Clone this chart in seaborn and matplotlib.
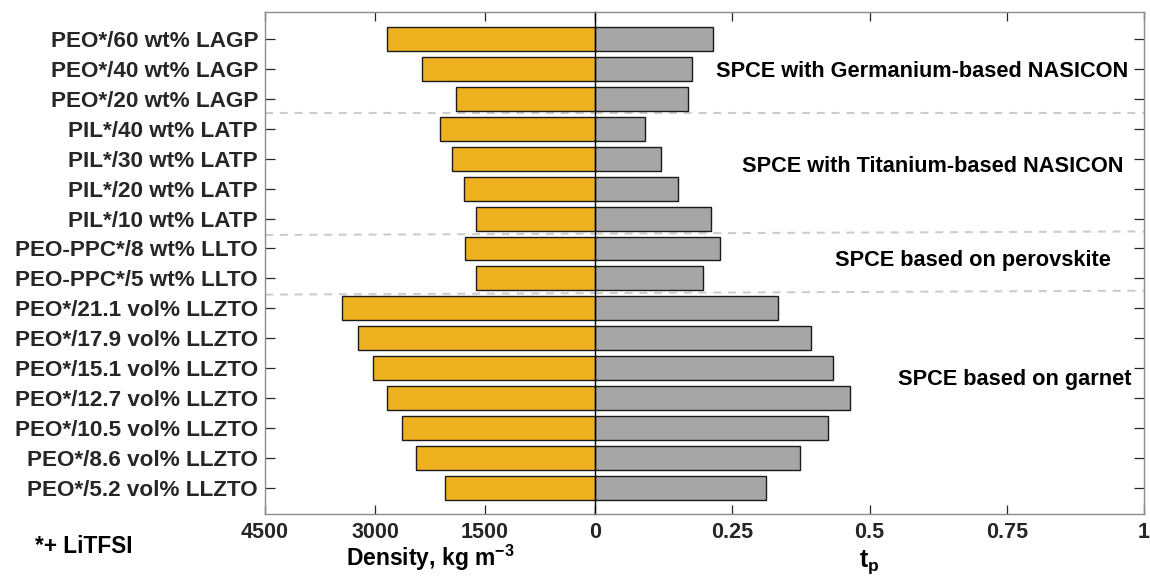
import matplotlib
matplotlib.use("Agg")
import matplotlib.pyplot as plt
import numpy as np
import pandas as pd
import seaborn as sns

# Composite electrolytes, top to bottom
electrolytes = [
    "PEO*/60 wt% LAGP", "PEO*/40 wt% LAGP", "PEO*/20 wt% LAGP",
    "PIL*/40 wt% LATP", "PIL*/30 wt% LATP", "PIL*/20 wt% LATP", "PIL*/10 wt% LATP",
    "PEO-PPC*/8 wt% LLTO", "PEO-PPC*/5 wt% LLTO",
    "PEO*/21.1 vol% LLZTO", "PEO*/17.9 vol% LLZTO", "PEO*/15.1 vol% LLZTO",
    "PEO*/12.7 vol% LLZTO", "PEO*/10.5 vol% LLZTO", "PEO*/8.6 vol% LLZTO",
    "PEO*/5.2 vol% LLZTO",
]
density = [2830, 2360, 1890, 2110, 1945, 1780, 1620, 1775, 1620,
           3445, 3235, 3030, 2830, 2635, 2435, 2045]
transference = [0.215, 0.177, 0.169, 0.091, 0.121, 0.151, 0.211, 0.228, 0.196,
                0.333, 0.393, 0.434, 0.464, 0.424, 0.373, 0.312]

group_names = ["SPCE with Germanium-based NASICON", "SPCE with Titanium-based NASICON",
               "SPCE based on perovskite", "SPCE based on garnet"]
group_label_x = [0.595, 0.615, 0.689, 0.765]
group_label_y = [1.09, 4.26, 7.41, 11.39]

density_ticks = [4500, 3000, 1500, 0]
tp_ticks = [0, 0.25, 0.5, 0.75, 1]
tp_tick_labels = ["", "0.25", "0.5", "0.75", "1"]

# separators between groups: (y at left edge, y at right edge)
separators = [(2.49, 2.49), (6.55, 6.43), (8.54, 8.41)]

YELLOW = "#EDB120"
GREY = "#A6A6A6"
TEXT = "#262626"
SPINE = "#8c8c8c"

sns.set_style("white")
plt.rcParams["font.family"] = ["Liberation Sans", "DejaVu Sans"]
plt.rcParams["font.weight"] = "bold"
plt.rcParams["axes.labelweight"] = "bold"
plt.rcParams["mathtext.fontset"] = "custom"
plt.rcParams["mathtext.rm"] = "Liberation Sans:bold"
plt.rcParams["mathtext.it"] = "Liberation Sans:bold"
plt.rcParams["mathtext.bf"] = "Liberation Sans:bold"
plt.rcParams["mathtext.default"] = "bf"

df = pd.DataFrame({"electrolyte": electrolytes, "density": density, "tp": transference})

W, H = 1150, 576
fig = plt.figure(figsize=(W / 100, H / 100), dpi=100)
left_px, mid_px, right_px = 265, 595, 1144
top_px, bot_px = 12, 514
axL = fig.add_axes([left_px / W, 1 - bot_px / H, (mid_px - left_px) / W, (bot_px - top_px) / H])
axR = fig.add_axes([mid_px / W, 1 - bot_px / H, (right_px - mid_px) / W, (bot_px - top_px) / H])

sns.barplot(data=df, y="electrolyte", x="density", orient="h", color=YELLOW,
            saturation=1, width=0.8, edgecolor="#1a1a1a", linewidth=1, ax=axL, zorder=2)
sns.barplot(data=df, y="electrolyte", x="tp", orient="h", color=GREY,
            saturation=1, width=0.8, edgecolor="#1a1a1a", linewidth=1, ax=axR, zorder=2)

# dashed group separators running across both panels
split = (mid_px - left_px) / (right_px - left_px)
for yl, yr in separators:
    ym = yl + (yr - yl) * split
    kw = dict(color="#cccccc", lw=1.5, ls=(0, (3.8, 3.3)), zorder=1)
    axL.plot([4500, 0], [yl, ym], **kw)
    axR.plot([0, 1], [ym, yr], **kw)

for name, gx, gy in zip(group_names, group_label_x, group_label_y):
    axR.text(gx, gy, name, ha="center", va="center", fontsize=15.7,
             fontweight="bold", color="black")

axL.set_xlim(4500, 0)
axR.set_xlim(0, 1)
for ax in (axL, axR):
    ax.set_ylim(15.87, -0.9)
    ax.set_ylabel("")
    for s in ax.spines.values():
        s.set_color(SPINE)
        s.set_linewidth(1)
    ax.tick_params(axis="x", direction="in", top=True, bottom=True, length=6.5,
                   width=0.9, color=TEXT, labelsize=15.5, labelcolor=TEXT, pad=6)

axL.spines["right"].set_visible(False)
axR.spines["left"].set_color("black")
axR.spines["left"].set_linewidth(1)

axL.set_xticks(density_ticks)
axL.set_xticklabels([str(t) for t in density_ticks])
axR.set_xticks(tp_ticks)
axR.set_xticklabels(tp_tick_labels)

axL.tick_params(axis="y", direction="in", left=True, right=False, length=7,
                width=0.9, color=TEXT, labelsize=16.2, labelcolor=TEXT, pad=5)
axR.set_yticks(range(len(electrolytes)))
axR.tick_params(axis="y", direction="in", left=False, right=True, labelleft=False,
                length=7, width=0.9, color=TEXT)

axL.set_xlabel("Density, kg m$^{-3}$", fontsize=16.5, color="black")
axL.xaxis.label.set_va("baseline")
axL.xaxis.set_label_coords(0.5, -(566 - bot_px) / (bot_px - top_px))
axR.set_xlabel("t$_p$", fontsize=18, color="black")
axR.xaxis.label.set_va("baseline")
axR.xaxis.set_label_coords(0.5, -(567 - bot_px) / (bot_px - top_px))

fig.text(35 / W, 1 - 553 / H, "*+ LiTFSI", fontsize=16.3, fontweight="bold",
         color="black", ha="left", va="baseline")

fig.savefig("out.png", dpi=100)
